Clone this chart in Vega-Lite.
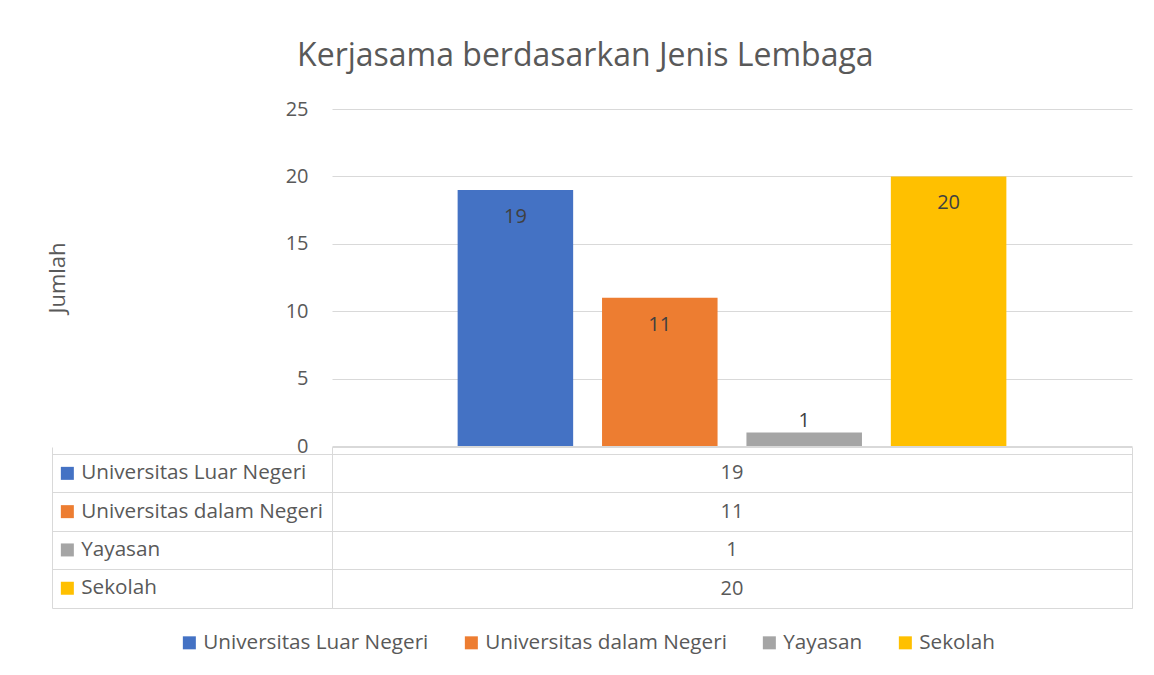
{
  "$schema": "https://vega.github.io/schema/vega-lite/v6.json",
  "padding": {"left": 46, "top": 40, "right": 5, "bottom": 5},
  "background": "white",
  "title": {"text": "Kerjasama berdasarkan Jenis Lembaga", "font": "Open Sans", "fontSize": 32, "fontWeight": "normal", "color": "#595959", "anchor": "middle", "offset": 26, "dx": -4},
  "data": {"values": [
    {"series": "Universitas Luar Negeri", "value": 19},
    {"series": "Universitas dalam Negeri", "value": 11},
    {"series": "Yayasan", "value": 1},
    {"series": "Sekolah", "value": 20}
  ]},
  "spacing": 1,
  "bounds": "flush",
  "vconcat": [
    {
      "width": 800,
      "height": 337,
      "layer": [
        {
          "mark": {"type": "bar"},
          "encoding": {
            "x": {"field": "series", "type": "nominal", "sort": null,
                  "scale": {"domain": ["Universitas Luar Negeri", "Universitas dalam Negeri", "Yayasan", "Sekolah"], "paddingInner": 0.2, "paddingOuter": 0.87},
                  "axis": null},
            "y": {"field": "value", "type": "quantitative",
                  "scale": {"domain": [0, 25], "nice": false},
                  "axis": {"values": [0, 5, 10, 15, 20, 25], "grid": true, "gridColor": "#d9d9d9", "domain": false, "ticks": false,
                           "labelFontSize": 20, "labelColor": "#595959", "labelPadding": 24,
                           "title": "Jumlah", "titleFontSize": 22, "titleFontWeight": "normal", "titleColor": "#595959", "titlePadding": 216}},
            "color": {"field": "series", "type": "nominal", "sort": null,
                      "scale": {"domain": ["Universitas Luar Negeri", "Universitas dalam Negeri", "Yayasan", "Sekolah"], "range": ["#4472c4", "#ed7d31", "#a5a5a5", "#ffc000"]},
                      "legend": {"orient": "none", "direction": "horizontal", "legendX": -153, "legendY": 523, "title": null, "columnPadding": 32}}
          }
        },
        {
          "transform": [{"filter": "datum.value >= 2"}],
          "mark": {"type": "text", "baseline": "middle", "dy": 27, "fontSize": 20, "color": "#404040"},
          "encoding": {
            "x": {"field": "series", "type": "nominal", "sort": null},
            "y": {"field": "value", "type": "quantitative", "scale": {"domain": [0, 25], "nice": false}},
            "text": {"field": "value", "type": "quantitative"}
          }
        },
        {
          "transform": [{"filter": "datum.value < 2"}],
          "mark": {"type": "text", "baseline": "middle", "dy": -12, "fontSize": 20, "color": "#404040"},
          "encoding": {
            "x": {"field": "series", "type": "nominal", "sort": null},
            "y": {"field": "value", "type": "quantitative", "scale": {"domain": [0, 25], "nice": false}},
            "text": {"field": "value", "type": "quantitative"}
          }
        }
      ]
    },
    {
      "width": 800,
      "height": 161,
      "view": {"stroke": "#d9d9d9", "strokeWidth": 1},
      "layer": [
        {
          "mark": {"type": "text", "baseline": "middle", "fontSize": 20, "color": "#595959"},
          "encoding": {
            "y": {"field": "series", "type": "nominal", "sort": null,
                  "scale": {"domain": ["Universitas Luar Negeri", "Universitas dalam Negeri", "Yayasan", "Sekolah"], "paddingInner": 0, "paddingOuter": 0.0909, "align": 1},
                  "axis": {"orient": "left", "title": null, "labels": false, "domain": true, "domainColor": "#d9d9d9",
                           "ticks": true, "tickSize": 280, "tickColor": "#d9d9d9", "tickBand": "extent",
                           "grid": true, "gridColor": "#d9d9d9"}},
            "text": {"field": "value", "type": "quantitative"}
          }
        },
        {
          "mark": {"type": "point", "shape": "square", "filled": true, "opacity": 0},
          "encoding": {
            "y": {"field": "series", "type": "nominal", "sort": null,
                  "scale": {"domain": ["Universitas Luar Negeri", "Universitas dalam Negeri", "Yayasan", "Sekolah"], "paddingInner": 0, "paddingOuter": 0.0909, "align": 1},
                  "axis": {"orient": "left", "offset": 280, "title": null, "labels": false, "ticks": false, "grid": false, "domain": true, "domainColor": "#d9d9d9"}},
            "color": {"field": "series", "type": "nominal", "sort": null,
                      "scale": {"domain": ["Universitas Luar Negeri", "Universitas dalam Negeri", "Yayasan", "Sekolah"], "range": ["#4472c4", "#ed7d31", "#a5a5a5", "#ffc000"]},
                      "legend": {"orient": "none", "direction": "vertical", "legendX": -275, "legendY": 16, "title": null, "rowPadding": 16.3, "symbolOpacity": 1}}
          }
        }
      ],
      "resolve": {"scale": {"y": "independent"}}
    }
  ],
  "resolve": {"legend": {"color": "independent"}},
  "config": {
    "font": "Open Sans",
    "view": {"stroke": null},
    "axis": {"labelFont": "Open Sans", "titleFont": "Open Sans"},
    "text": {"font": "Open Sans"},
    "legend": {"labelFont": "Open Sans", "labelFontSize": 20.7, "labelColor": "#595959", "symbolType": "square", "symbolSize": 169, "symbolStrokeWidth": 0, "labelLimit": 400, "padding": 0, "labelOffset": 3.5, "symbolOpacity": 1}
  }
}
